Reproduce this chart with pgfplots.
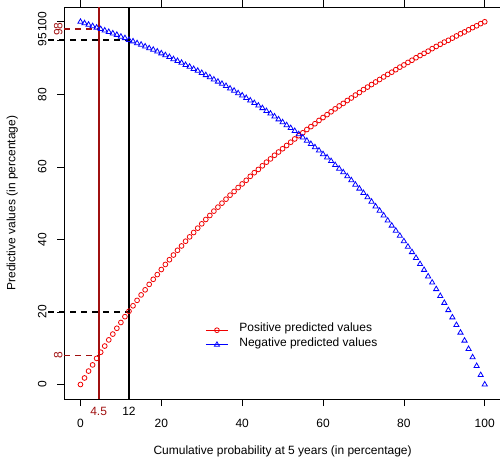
\documentclass[border=0pt]{standalone}
\usepackage{fontspec}
\setmainfont{Liberation Sans}
\usepackage{pgfplots}
\pgfplotsset{compat=1.18}

\definecolor{dred}{HTML}{A01010}
\definecolor{ppvred}{HTML}{F00000}
\definecolor{npvblue}{HTML}{0000FF}

\begin{document}
\begin{tikzpicture}[font=\fontsize{12bp}{14bp}\selectfont]
  % fixes the page to the reference's 500x458 frame
  \path[use as bounding box] (-64.3bp,-59bp) rectangle (435.7bp,399bp);
  \begin{axis}[
      scale only axis,
      width=436.6bp, height=391.7bp,
      xmin=-4, xmax=104, ymin=-4, ymax=104,
      clip=false,
      axis line style={line width=0.75bp},
      tick style={black, line width=0.75bp},
      tick align=outside,
      major tick length=7bp,
      /pgf/number format/assume math mode=true,
      xtick={0,20,40,60,80,100},
      ytick={0,20,40,60,80,95,100},
      xticklabel style={anchor=center, yshift=-17bp},
      yticklabel style={anchor=center, xshift=-15bp, rotate=90},
      extra x ticks={4.5,12},
      extra x tick labels={\textcolor{dred}{4.5},12},
      extra x tick style={major tick length=0pt,
        every x tick label/.style={anchor=center, yshift=-12bp,
          font=\fontsize{12bp}{14bp}\selectfont}},
      extra y ticks={8,98},
      extra y tick labels={{\fontsize{12bp}{14bp}\selectfont\color{dred}8},
        {\fontsize{12bp}{14bp}\selectfont\color{dred}98}},
      extra y tick style={major tick length=0pt,
        every y tick label/.style={anchor=center, xshift=-6bp, rotate=90,
          font=\fontsize{12bp}{14bp}\selectfont}},
      xlabel={Cumulative probability at 5 years (in percentage)},
      ylabel={Predictive values (in percentage)},
      xlabel style={at={(axis description cs:0.5,-0.1345)}, anchor=center},
      ylabel style={at={(axis description cs:-0.1191,0.5)}, anchor=center},
      legend style={draw=none, fill=none, inner sep=0pt, row sep=0pt,
        column sep=11bp,
        at={(axis cs:30.9,12.95)}, anchor=west,
        nodes={inner sep=0pt, text height=9bp, text depth=5.6bp},
        cells={anchor=west}},
    ]

    % positive predicted values
    \addplot[only marks, color=ppvred, mark=o, mark size=2.4bp,
      mark options={line width=0.8bp},
      legend image code/.code={
        \draw[draw=ppvred, line width=0.75bp] (0bp,0bp) -- (22bp,0bp);
        \draw[draw=ppvred, line width=0.8bp] plot[mark=o, mark size=2.4bp]
          coordinates {(11bp,0bp)};}] coordinates {
      (0,0) (1,1.8) (2,3.7) (3,5.4) (4,7.2) (5,8.9) (6,10.6) (7,12.3) (8,13.9) (9,15.5)
      (10,17.1) (11,18.7) (12,20.2) (13,21.7) (14,23.2) (15,24.7) (16,26.1) (17,27.6) (18,29.0) (19,30.3)
      (20,31.7) (21,33.1) (22,34.4) (23,35.7) (24,37.0) (25,38.2) (26,39.5) (27,40.7) (28,41.9) (29,43.1)
      (30,44.3) (31,45.5) (32,46.6) (33,47.8) (34,48.9) (35,50.0) (36,51.1) (37,52.2) (38,53.2) (39,54.3)
      (40,55.3) (41,56.3) (42,57.4) (43,58.4) (44,59.3) (45,60.3) (46,61.3) (47,62.2) (48,63.2) (49,64.1)
      (50,65.0) (51,65.9) (52,66.8) (53,67.7) (54,68.6) (55,69.4) (56,70.3) (57,71.1) (58,71.9) (59,72.8)
      (60,73.6) (61,74.4) (62,75.2) (63,76.0) (64,76.8) (65,77.5) (66,78.3) (67,79.0) (68,79.8) (69,80.5)
      (70,81.3) (71,82.0) (72,82.7) (73,83.4) (74,84.1) (75,84.8) (76,85.5) (77,86.1) (78,86.8) (79,87.5)
      (80,88.1) (81,88.8) (82,89.4) (83,90.1) (84,90.7) (85,91.3) (86,91.9) (87,92.6) (88,93.2) (89,93.8)
      (90,94.4) (91,94.9) (92,95.5) (93,96.1) (94,96.7) (95,97.2) (96,97.8) (97,98.4) (98,98.9) (99,99.5)
      (100,100)
    };
    \addlegendentry{Positive predicted values}

    % negative predicted values
    \addplot[only marks, color=npvblue, mark=triangle, mark size=3bp,
      mark options={line width=0.8bp},
      legend image code/.code={
        \draw[draw=npvblue, line width=0.75bp] (0bp,0bp) -- (22bp,0bp);
        \draw[draw=npvblue, line width=0.8bp] plot[mark=triangle, mark size=3bp]
          coordinates {(11bp,0bp)};}] coordinates {
      (0,100) (1,99.6) (2,99.2) (3,98.8) (4,98.4) (5,98.0) (6,97.6) (7,97.2) (8,96.8) (9,96.4)
      (10,95.9) (11,95.5) (12,95.0) (13,94.6) (14,94.1) (15,93.7) (16,93.2) (17,92.7) (18,92.3) (19,91.8)
      (20,91.3) (21,90.8) (22,90.3) (23,89.7) (24,89.2) (25,88.7) (26,88.1) (27,87.6) (28,87.0) (29,86.5)
      (30,85.9) (31,85.3) (32,84.7) (33,84.1) (34,83.5) (35,82.9) (36,82.3) (37,81.6) (38,81.0) (39,80.3)
      (40,79.7) (41,79.0) (42,78.3) (43,77.6) (44,76.9) (45,76.2) (46,75.4) (47,74.7) (48,73.9) (49,73.1)
      (50,72.3) (51,71.5) (52,70.7) (53,69.9) (54,69.0) (55,68.1) (56,67.2) (57,66.3) (58,65.4) (59,64.5)
      (60,63.5) (61,62.6) (62,61.6) (63,60.5) (64,59.5) (65,58.5) (66,57.4) (67,56.3) (68,55.1) (69,54.0)
      (70,52.8) (71,51.6) (72,50.4) (73,49.1) (74,47.9) (75,46.6) (76,45.2) (77,43.8) (78,42.4) (79,41.0)
      (80,39.5) (81,38.0) (82,36.5) (83,34.9) (84,33.2) (85,31.6) (86,29.8) (87,28.1) (88,26.3) (89,24.4)
      (90,22.5) (91,20.5) (92,18.5) (93,16.4) (94,14.3) (95,12.1) (96,9.8) (97,7.5) (98,5.1) (99,2.6)
      (100,0)
    };
    \addlegendentry{Negative predicted values}

    % cut-off guides
    \addplot[draw=dred, line width=1.9bp, forget plot] coordinates {(4.5,-4) (4.5,104)};
    \addplot[draw=black, line width=1.4bp, forget plot] coordinates {(12,-4) (12,104)};
    \addplot[draw=dred, line width=1.9bp, dash pattern=on 6bp off 5bp, forget plot]
      coordinates {(-4,8) (4.5,8)};
    \addplot[draw=dred, line width=1.9bp, dash pattern=on 6bp off 5bp, forget plot]
      coordinates {(-4,98) (4.5,98)};
    \addplot[draw=black, line width=1.4bp, dash pattern=on 6bp off 5bp, forget plot]
      coordinates {(-8,20) (12,20)};
    \addplot[draw=black, line width=1.4bp, dash pattern=on 6bp off 5bp, forget plot]
      coordinates {(-8,95) (12,95)};
  \end{axis}
\end{tikzpicture}
\end{document}
